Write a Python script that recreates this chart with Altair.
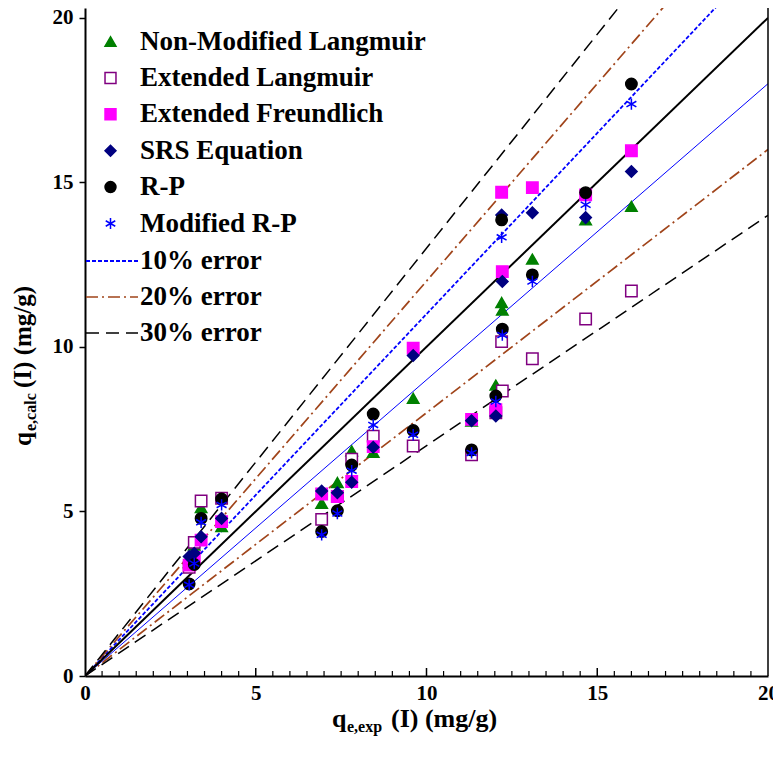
import altair as alt
import pandas as pd
import numpy as np

# ---------------- data ----------------
x_exp = [3.05, 3.2, 3.4, 4.0, 6.93, 7.39, 7.81, 8.44, 9.61, 11.32, 12.03, 12.2, 12.22, 13.1, 14.66, 16.0]
non_mod_langmuir = [3.45, 3.98, 5.12, 4.54, 5.25, 5.88, 6.84, 6.80, 8.44, 7.75, 8.84, 11.35, 11.12, 12.67, 13.86, 14.27]
ext_langmuir = [3.30, 4.06, 5.32, 5.40, 4.76, 5.45, 6.59, 7.29, 6.99, 6.72, 8.00, 10.16, 8.66, 9.64, 10.85, 11.70]
ext_freundlich = [3.37, 3.60, 4.13, 4.69, 5.53, 5.45, 5.91, 6.97, 9.96, 7.80, 8.09, 14.70, 12.29, 14.84, 14.62, 15.96]
srs_equation = [3.63, 3.73, 4.23, 4.79, 5.62, 5.57, 5.89, 6.95, 9.74, 7.76, 7.90, 14.01, 11.99, 14.08, 13.93, 15.33]
r_p = [2.80, 3.39, 4.79, 5.38, 4.39, 5.02, 6.41, 7.96, 7.46, 6.87, 8.51, 13.86, 10.54, 12.19, 14.69, 17.99]
mod_r_p = [2.77, 3.42, 4.67, 5.20, 4.29, 4.94, 6.24, 7.63, 7.33, 6.78, 8.34, 13.33, 10.36, 11.99, 14.32, 17.38]

series_names = ["Non-Modified Langmuir", "Extended Langmuir", "Extended Freundlich",
                "SRS Equation", "R-P", "Modified R-P"]
series_values = [non_mod_langmuir, ext_langmuir, ext_freundlich, srs_equation, r_p, mod_r_p]

error_labels = ["10% error", "20% error", "30% error"]
error_fracs = [0.1, 0.2, 0.3]
line_x = [0, 20]

x_ticks = [0, 5, 10, 15, 20]
y_ticks = [0, 5, 10, 15, 20]

# ---------------- styles ----------------
FONT = "Liberation Serif"
W, H = 683, 668
fill_range = ["#008000", "white", "#FF00FF", "#000080", "black", "transparent"]
stroke_range = ["#008000", "#800080", "#FF00FF", "#000080", "black", "#0000FF"]
asterisk = "M0,-1L0,1M-0.87,-0.5L0.87,0.5M-0.87,0.5L0.87,-0.5"
shape_range = ["triangle-up", "square", "square", "diamond", "circle", asterisk]
err_colors = ["#0000FF", "#A0441A", "black"]
err_dashes = [[4, 2], [12, 4, 2, 4], [13, 7]]
err_widths = [1.8, 1.7, 1.5]

pts = pd.DataFrame([
    {"series": n, "x": xv, "y": yv}
    for n, vals in zip(series_names, series_values)
    for xv, yv in zip(x_exp, vals)
])

diag = pd.DataFrame({"x": line_x, "y": line_x})

xscale = alt.Scale(domain=[0, 20], nice=False, zero=False)
yscale = alt.Scale(domain=[0, 20.3], nice=False, zero=False)

xaxis = alt.Axis(values=x_ticks, ticks=False, grid=False, title=None, labelFont=FONT,
                 labelFontSize=21, labelFontWeight="bold", labelColor="black",
                 domainColor="black", domainWidth=2, labelPadding=6, labelFlush=False)
yaxis = alt.Axis(values=y_ticks, ticks=True, tickSize=6, tickColor="black", tickWidth=1.5,
                 grid=False, title=None, labelFont=FONT, labelFontSize=21,
                 labelFontWeight="bold", labelColor="black", domainColor="black",
                 domainWidth=2, labelPadding=6, labelFlush=False)

diag_layer = alt.Chart(diag).mark_line(color="black", strokeWidth=2, clip=True).encode(
    x=alt.X("x:Q", scale=xscale, axis=xaxis), y=alt.Y("y:Q", scale=yscale, axis=yaxis))

# error lines: one layer (and one legend entry) per error level
err_layers = []
for i, (lab, f) in enumerate(zip(error_labels, error_fracs)):
    sides = [("upper", 1 + f)] if i == 0 else [("upper", 1 + f), ("lower", 1 - f)]
    df = pd.DataFrame([{"err": lab, "side": s, "x": xv, "y": k * xv}
                       for s, k in sides for xv in line_x])
    leg = alt.Legend(orient="none", legendX=0, legendY=226 + 36 * i, title=None,
                     symbolType="stroke", symbolSize=2704, symbolStrokeWidth=err_widths[i],
                     symbolDash=err_dashes[i], labelFont=FONT, labelFontSize=27,
                     labelFontWeight="bold", labelColor="black", labelOffset=1,
                     labelLimit=400)
    err_layers.append(
        alt.Chart(df).mark_line(strokeWidth=err_widths[i], strokeDash=err_dashes[i],
                                clip=True).encode(
            x="x:Q", y="y:Q", detail="side:N",
            color=alt.Color("err:N", scale=alt.Scale(domain=[lab], range=[err_colors[i]]),
                            legend=leg)))

lower10 = pd.DataFrame({"x": line_x, "y": [(1 - error_fracs[0]) * v for v in line_x]})
lower10_layer = alt.Chart(lower10).mark_line(color="#0000FF", strokeWidth=1, clip=True).encode(
    x="x:Q", y="y:Q")

pt_legend = alt.Legend(orient="none", legendX=12, legendY=20, title=None,
                       labelFont=FONT, labelFontSize=27, labelFontWeight="bold",
                       labelColor="black", symbolSize=120, symbolStrokeWidth=1.5,
                       labelOffset=16, rowPadding=8.4, labelLimit=400)
pt_layer = alt.Chart(pts).mark_point(filled=False, opacity=1, size=130, strokeWidth=1.5).encode(
    x="x:Q", y="y:Q",
    shape=alt.Shape("series:N", scale=alt.Scale(domain=series_names, range=shape_range),
                    legend=pt_legend),
    fill=alt.Fill("series:N", scale=alt.Scale(domain=series_names, range=fill_range),
                  legend=pt_legend),
    stroke=alt.Stroke("series:N", scale=alt.Scale(domain=series_names, range=stroke_range),
                      legend=pt_legend),
)

# minor / major ticks pointing inward on the x axis
tick_x = pd.DataFrame({"x": np.arange(0.5, 20.0, 0.5)})
tick_x["major"] = (tick_x.x % 5 == 0)
minor_ticks = alt.Chart(tick_x[~tick_x.major]).mark_rule(color="black", strokeWidth=1.2).encode(
    x="x:Q", y=alt.value(H), y2=alt.value(H - 5))
major_ticks = alt.Chart(tick_x[tick_x.major]).mark_rule(color="black", strokeWidth=1.5).encode(
    x="x:Q", y=alt.value(H), y2=alt.value(H - 8))

right_border = alt.Chart(pd.DataFrame({"a": [0]})).mark_rule(color="black", strokeWidth=1.5).encode(
    x=alt.value(W), y=alt.value(0), y2=alt.value(H))


def txt(s, x, y, size, angle=0):
    return alt.Chart(pd.DataFrame({"t": [s]})).mark_text(
        font=FONT, fontSize=size, fontWeight="bold", color="black", align="left",
        baseline="alphabetic", angle=angle).encode(text="t:N", x=alt.value(x), y=alt.value(y))


# axis titles with subscripts
xt = [txt("q", 247, 719, 26), txt("e,exp", 262, 724, 16), txt("(I) (mg/g)", 306, 719, 26)]
yt = [txt("q", -54, 438, 25, 270), txt("e,calc", -49, 423, 16, 270),
      txt("(I) (mg/g)", -54, 380, 25, 270)]

chart = alt.layer(
    *err_layers, lower10_layer, diag_layer, pt_layer, minor_ticks, major_ticks, right_border,
    *xt, *yt
).properties(
    width=W, height=H,
    autosize=alt.AutoSizeParams(type="none"),
    padding={"left": 77, "top": 0, "right": 5, "bottom": 87},
).resolve_scale(color="independent").configure_view(stroke=None)

chart.save("out.html", embed_options={"renderer": "svg", "actions": False})
